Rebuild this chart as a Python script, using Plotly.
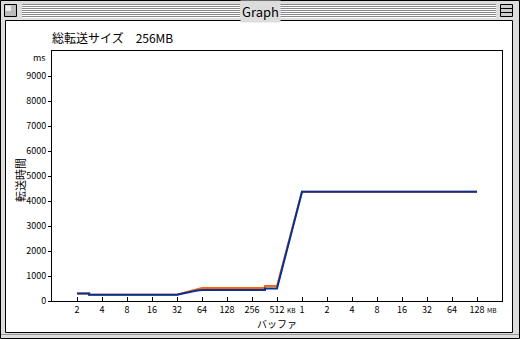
import math
import plotly.graph_objects as go

# ---- data ----
tick_kb = [2**i for i in range(1, 18)]
tick_labels = ["2", "4", "8", "16", "32", "64", "128", "256", "512",
               "1", "2", "4", "8", "16", "32", "64", "128"]
y_ticks = [0, 1000, 2000, 3000, 4000, 5000, 6000, 7000, 8000, 9000]

buffer_kb = [2, 2.8, 2.8, 32, 40, 48, 56, 64, 367, 367, 512, 1024, 131072]
blue_ms = [300, 300, 250, 250, 320, 380, 420, 440, 440, 500, 500, 4370, 4370]
orange_ms = [300, 300, 250, 250, 340, 420, 490, 520, 520, 600, 600, 4370, 4370]

W, H = 520, 339
L, R, T, B = 52, 502, 51, 301
FONT = "Noto Sans CJK JP"


def px(x):
    return (x - L) / (R - L)


def py(y):
    return (B - y) / (B - T)


fig = go.Figure()
fig.add_trace(go.Scatter(x=buffer_kb, y=orange_ms, mode="lines",
                         line=dict(color="#FF6600", width=2), showlegend=False))
fig.add_trace(go.Scatter(x=buffer_kb, y=blue_ms, mode="lines",
                         line=dict(color="#003399", width=2), showlegend=False))

shapes = []


def rect(x0, y0, x1, y1, fill=None, line=None, lw=1, layer="below"):
    shapes.append(dict(type="rect", xref="paper", yref="paper",
                       x0=px(x0), x1=px(x1), y0=py(y0), y1=py(y1),
                       fillcolor=fill if fill else "rgba(0,0,0,0)",
                       line=dict(color=line if line else "rgba(0,0,0,0)", width=lw if line else 0),
                       layer=layer))


def hline(x0, x1, y, color, lw=1):
    shapes.append(dict(type="line", xref="paper", yref="paper",
                       x0=px(x0), x1=px(x1), y0=py(y), y1=py(y),
                       line=dict(color=color, width=lw), layer="below"))


# window frame
rect(0.5, 0.5, 519.5, 338.5, fill="#DDDDDD", line="#000000")
rect(1.5, 1.5, 518.5, 20.5, fill="#DDDDDD")
# title stripes
for yy in range(4, 18, 2):
    hline(22, 240, yy + 0.5, "#888888")
    hline(22, 240, yy + 1.5, "#FFFFFF")
    hline(280, 496, yy + 0.5, "#888888")
    hline(280, 496, yy + 1.5, "#FFFFFF")
# close box
rect(4.5, 4.5, 16.5, 16.5, fill="#BBBBBB", line="#000000")
rect(5.5, 5.5, 11, 11, fill="#EEEEEE")
# zoom box
rect(500.5, 4.5, 512.5, 16.5, fill="#CCCCCC", line="#000000")
hline(501, 512, 8.5, "#000000")
hline(501, 512, 12.5, "#000000")
# content area
rect(5.5, 20.5, 512.5, 332.5, fill="#FFFFFF", line="#000000")
hline(1, 519, 334.5, "#999999")

fig.update_layout(shapes=shapes)


def ann(text, x, y, size, xanchor="center", angle=0, **kw):
    return dict(text=text, x=px(x), y=py(y), xref="paper", yref="paper",
                xanchor=xanchor, yanchor="middle", textangle=angle,
                showarrow=False, font=dict(family=FONT, size=size, color="#000"), **kw)


annotations = [
    ann("Graph", 260, 11, 13, bgcolor="#DDDDDD", borderpad=1),
    ann("総転送サイズ　256MB", 50, 38, 12, xanchor="left"),
    ann("ms", 48, 57, 9, xanchor="right"),
    ann("転送時間", 20, 180, 11, angle=-90),
    ann("バッファ", 277, 323, 10, borderpad=0),
    ann("KB", 286, 310, 6.5, xanchor="left", borderpad=0),
    ann("MB", 486, 310, 6.5, xanchor="left", borderpad=0),
]

fig.update_layout(
    width=W, height=H,
    margin=dict(l=L, r=W - R, t=T, b=H - B, pad=0),
    paper_bgcolor="#DDDDDD",
    plot_bgcolor="#FFFFFF",
    annotations=annotations,
    xaxis=dict(type="log", range=[0, 18 * math.log10(2)],
               tickvals=tick_kb, ticktext=tick_labels,
               ticks="inside", ticklen=4, tickcolor="#000",
               showline=True, linecolor="#000", linewidth=1, mirror=True,
               showgrid=False, zeroline=False,
               tickfont=dict(family=FONT, size=9, color="#000")),
    yaxis=dict(range=[0, 10000], tickvals=y_ticks,
               ticks="outside", ticklen=3, tickcolor="#000",
               showline=True, linecolor="#000", linewidth=1, mirror=True,
               showgrid=False, zeroline=False,
               tickfont=dict(family=FONT, size=9, color="#000")),
)

fig.write_html("out.html")
